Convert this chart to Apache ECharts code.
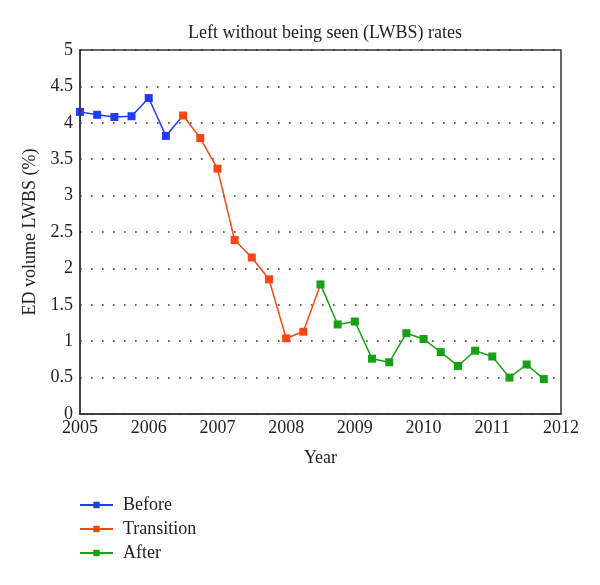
<!DOCTYPE html>
<html>
<head>
<meta charset="utf-8">
<script src="https://cdn.jsdelivr.net/npm/echarts@6/dist/echarts.min.js"></script>
<style>html,body{margin:0;padding:0;background:#fff}#c{width:600px;height:585px}</style>
</head>
<body>
<div id="c"></div>
<script>
const titleText = 'Left without being seen (LWBS) rates';
const yName = 'ED volume LWBS (%)';
const xName = 'Year';
const seriesNames = ['Before', 'Transition', 'After'];
const beforeX = [2005.0, 2005.25, 2005.5, 2005.75, 2006.0, 2006.25];
const beforeY = [4.15, 4.11, 4.08, 4.09, 4.34, 3.82];
const transitionX = [2006.5, 2006.75, 2007.0, 2007.25, 2007.5, 2007.75, 2008.0, 2008.25];
const transitionY = [4.10, 3.79, 3.37, 2.39, 2.15, 1.85, 1.04, 1.13];
const afterX = [2008.5, 2008.75, 2009.0, 2009.25, 2009.5, 2009.75, 2010.0, 2010.25, 2010.5, 2010.75, 2011.0, 2011.25, 2011.5, 2011.75];
const afterY = [1.78, 1.23, 1.27, 0.76, 0.71, 1.11, 1.03, 0.85, 0.66, 0.87, 0.79, 0.50, 0.68, 0.48];
const colors = ['#1f3cff', '#ff4512', '#16a112'];

function pts(xs, ys, nextX, nextY) {
  const d = xs.map((x, i) => [x, ys[i]]);
  if (nextX !== undefined) d.push({ value: [nextX, nextY], symbol: 'none' });
  return d;
}

const font = 'Liberation Serif, Times New Roman, serif';
const chart = echarts.init(document.getElementById('c'));
chart.setOption({
  animation: false,
  title: {
    text: titleText, left: 320, top: 19, textAlign: 'center',
    textStyle: { fontFamily: font, fontSize: 18, fontWeight: 'normal', color: '#222' }
  },
  grid: { left: 80, right: 39, top: 50, bottom: 171 },
  legend: {
    orient: 'vertical', left: 74, top: 491, itemWidth: 33, itemHeight: 8, itemGap: 6,
    data: seriesNames,
    textStyle: { fontFamily: font, fontSize: 18, color: '#222', padding: [0, 0, 0, 5] }
  },
  xAxis: {
    type: 'value', min: 2005, max: 2012, interval: 1,
    name: xName, nameLocation: 'middle', nameGap: 35,
    nameTextStyle: { fontFamily: font, fontSize: 18, color: '#222' },
    axisLine: { show: true, lineStyle: { color: '#333', width: 1.5 } },
    axisTick: { show: false },
    axisLabel: { fontFamily: font, fontSize: 18, color: '#222', margin: 5, formatter: v => String(v) },
    splitLine: { show: false }
  },
  yAxis: {
    type: 'value', min: 0, max: 5, interval: 0.5,
    name: yName, nameLocation: 'middle', nameGap: 39, nameRotate: 90,
    nameTextStyle: { fontFamily: font, fontSize: 18, color: '#222' },
    axisLine: { show: true, lineStyle: { color: '#333', width: 1.5 } },
    axisTick: { show: false },
    axisLabel: { fontFamily: font, fontSize: 18, color: '#222', margin: 7 },
    splitLine: { show: true, lineStyle: { color: '#333', width: 1.6, type: [1.6, 9.4] } }
  },
  graphic: [{
    type: 'rect', shape: { x: 80, y: 50, width: 481, height: 364 },
    style: { fill: 'none', stroke: '#333', lineWidth: 1.5 }, silent: true, z: 10
  }],
  series: [
    { name: seriesNames[0], type: 'line', data: pts(beforeX, beforeY, transitionX[0], transitionY[0]),
      color: colors[0], symbol: 'rect', symbolSize: 8, lineStyle: { width: 1.5 } },
    { name: seriesNames[1], type: 'line', data: pts(transitionX, transitionY, afterX[0], afterY[0]),
      color: colors[1], symbol: 'rect', symbolSize: 8, lineStyle: { width: 1.5 } },
    { name: seriesNames[2], type: 'line', data: pts(afterX, afterY),
      color: colors[2], symbol: 'rect', symbolSize: 8, lineStyle: { width: 1.5 } }
  ]
});
</script>
</body>
</html>
